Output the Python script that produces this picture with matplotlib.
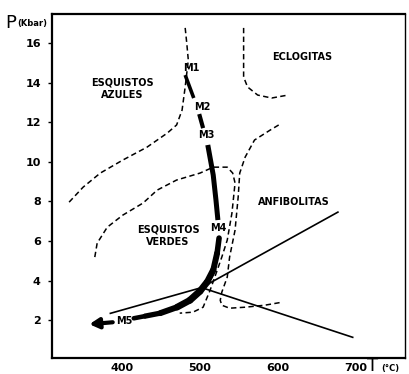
import numpy as np
import matplotlib
matplotlib.use("Agg")
import matplotlib.pyplot as plt
from matplotlib.collections import LineCollection

# --- data (T in degC, P in kbar) ---
# blueschist field boundary
azules_T = [481, 483, 485, 481, 477, 470, 458, 432, 401, 372, 350, 331]
azules_P = [16.76, 16.0, 15.14, 13.78, 12.61, 11.86, 11.45, 10.74, 10.09, 9.43, 8.72, 7.92]

# greenschist field boundary (inner loop)
verdes_T = [365, 368, 381, 401, 427, 445, 470, 500, 517, 535, 542, 545, 541, 535,
            528, 519, 513, 504, 491, 474]
verdes_P = [5.19, 5.89, 6.70, 7.31, 7.92, 8.57, 9.08, 9.43, 9.73, 9.73, 9.43, 8.93,
            7.41, 6.05, 5.19, 4.18, 3.52, 2.66, 2.41, 2.36]

# amphibolite field boundary
anfib_T = [601, 590, 570, 558, 551, 549, 545, 538, 535, 528, 526, 528, 538, 558, 583, 605]
anfib_P = [11.86, 11.60, 11.10, 10.24, 9.43, 8.22, 6.55, 5.19, 4.18, 3.42, 3.01, 2.76,
           2.61, 2.66, 2.76, 2.91]

# eclogite field boundary
eclog_T = [556, 556, 561, 574, 592, 613]
eclog_P = [16.76, 14.28, 13.78, 13.37, 13.22, 13.37]

# Al2SiO5 triple point and its three reaction lines
triple = (502, 3.65)
reaction_ends = [(385, 2.35), (677, 7.46), (696, 1.14)]

# P-T path segments between the M labels
path_segs = [
    ([481, 492], [14.38, 13.22]),
    ([499, 504], [12.41, 11.70]),
    ([510, 517, 520.5, 523], [10.85, 9.33, 8.07, 7.06]),
    ([524.5, 522, 517, 509, 500, 487, 470.5, 449, 429.5, 415],
     [6.15, 5.39, 4.53, 3.92, 3.47, 3.01, 2.66, 2.36, 2.21, 2.10]),
]
arrow_from = (388, 1.90)
arrow_to = (358, 1.80)

m_labels = ["M1", "M2", "M3", "M4", "M5"]
m_T = [488.5, 503.5, 507.5, 524, 402.5]
m_P = [14.74, 12.77, 11.35, 6.65, 1.95]

field_names = ["ESQUISTOS\nAZULES", "ECLOGITAS", "ESQUISTOS\nVERDES", "ANFIBOLITAS"]
field_T = [400, 631, 459, 621]
field_P = [13.7, 15.29, 6.25, 7.97]

fig = plt.figure(figsize=(4.09, 3.74), dpi=100)
ax = fig.add_axes([0.127, 0.043, 0.863, 0.920])

dash = (0, (3.5, 2.2))
for T, P in [(azules_T, azules_P), (verdes_T, verdes_P), (anfib_T, anfib_P), (eclog_T, eclog_P)]:
    ax.plot(T, P, color="black", lw=1.1, linestyle=dash)

for end in reaction_ends:
    ax.plot([triple[0], end[0]], [triple[1], end[1]], color="black", lw=1.2)

# thick P-T path
widths = [2.6, 3.0, 3.6]
for (T, P), w in zip(path_segs[:3], widths):
    ax.plot(T, P, color="black", lw=w, solid_capstyle="butt")
T, P = path_segs[3]
pts = np.column_stack([T, P])
segs = np.stack([pts[:-1], pts[1:]], axis=1)
lw = [4.0, 4.3, 4.6, 4.9, 5.0, 4.8, 4.3, 3.8, 3.3]
ax.add_collection(LineCollection(segs, linewidths=lw, colors="black", capstyle="round"))

ax.annotate("", xy=arrow_to, xytext=arrow_from,
            arrowprops=dict(arrowstyle="-|>,head_length=0.55,head_width=0.3",
                            lw=3, color="black", shrinkA=0, shrinkB=0))

for lab, t, p in zip(m_labels, m_T, m_P):
    ax.text(t, p, lab, ha="center", va="center", fontsize=7, fontweight="bold")

for lab, t, p in zip(field_names, field_T, field_P):
    ax.text(t, p, lab, ha="center", va="center", fontsize=7, fontweight="bold",
            linespacing=1.3)

ax.set_xlim(310, 763)
ax.set_ylim(0.1, 17.47)
ax.set_xticks([400, 500, 600, 700])
ax.set_yticks([2, 4, 6, 8, 10, 12, 14, 16])
ax.tick_params(axis="y", direction="out", length=3, width=1, pad=5, labelsize=8)
ax.tick_params(axis="x", direction="out", length=0, pad=4, labelsize=8)
for lbl in ax.get_xticklabels() + ax.get_yticklabels():
    lbl.set_fontweight("bold")
for s in ax.spines.values():
    s.set_linewidth(1.6)
ax.spines["right"].set_linewidth(1.0)

fig.text(0.012, 0.938, "P", fontsize=13, va="center", ha="left")
fig.text(0.042, 0.936, "(Kbar)", fontsize=6, fontweight="bold", va="center", ha="left")
fig.text(0.897, 0.022, "T", fontsize=13, va="center", ha="left")
fig.text(0.932, 0.014, "(°C)", fontsize=6, fontweight="bold", va="center", ha="left")

fig.savefig("out.png", dpi=100)
